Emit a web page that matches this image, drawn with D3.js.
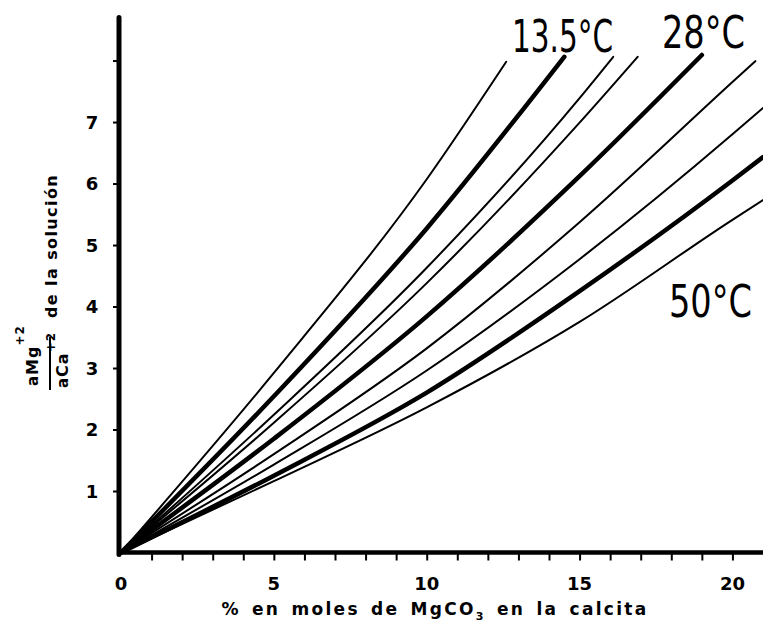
<!DOCTYPE html>
<html>
<head>
<meta charset="utf-8">
<script src="https://cdn.jsdelivr.net/npm/d3@7"></script>
<style>
  html, body { margin: 0; padding: 0; background: #fff; }
  svg { display: block; }
</style>
</head>
<body>
<svg id="chart" width="763" height="633"></svg>
<script>
// ---- data ----
const xTickValues = [1,2,3,4,5,6,7,8,9,10,11,12,13,14,15,16,17,18,19,20];
const xTickLabels = [0, 5, 10, 15, 20];
const yTickValues = [1,2,3,4,5,6,7,8];
const yTickLabels = [1,2,3,4,5,6,7];

const seriesNames = ["sup 13.5°C", "13.5°C", "inf 13.5°C", "sup 28°C", "28°C", "inf 28°C", "sup 50°C", "50°C", "inf 50°C"];
const line1 = [[0,0],[5,2.92],[10,6.07],[12.6,7.98]];
const line2 = [[0,0],[5,2.54],[10,5.27],[14.5,8.06]];
const line3 = [[0,0],[5,2.24],[10,4.63],[15,7.39],[16.1,8.06]];
const line4 = [[0,0],[5,2.11],[10,4.38],[15,6.99],[16.9,8.06]];
const line5 = [[0,0],[5,1.85],[10,3.84],[15,6.12],[19.0,8.09]];
const line6 = [[0,0],[5,1.60],[10,3.32],[15,5.37],[20,7.65],[20.75,7.99]];
const line7 = [[0,0],[5,1.43],[10,2.96],[15,4.77],[20,6.80],[21,7.23]];
const line8 = [[0,0],[5,1.25],[10,2.60],[15,4.25],[20,6.05],[21,6.43]];
const line9 = [[0,0],[5,1.16],[10,2.36],[15,3.75],[20,5.41],[21,5.73]];
const seriesValues = [line1, line2, line3, line4, line5, line6, line7, line8, line9];
const tempLabels = ["13.5°C", "28°C", "50°C"];

// ---- layout ----
const svg = d3.select("#chart");
const x = d3.scaleLinear().domain([0, 21]).range([121, 763]);
const y = d3.scaleLinear().domain([0, 8.7]).range([552.5, 17.5]);
const thickSet = new Set([1, 4, 7]);

// series lines
const lineGen = d3.line().x(d => x(d[0])).y(d => y(d[1])).curve(d3.curveMonotoneX);
svg.append("g").selectAll("path")
  .data(seriesValues)
  .join("path")
  .attr("d", lineGen)
  .attr("fill", "none")
  .attr("stroke", "#000")
  .attr("stroke-linecap", "round")
  .attr("stroke-width", (d, i) => thickSet.has(i) ? 4.5 : 2);

// x axis
const xAxis = d3.axisBottom(x).tickValues(xTickValues).tickSize(8).tickSizeOuter(0).tickFormat("");
const gx = svg.append("g").attr("transform", `translate(0,${y(0)})`).call(xAxis);
gx.select(".domain").remove();
gx.selectAll(".tick line").attr("stroke", "#000").attr("stroke-width", 2);
svg.append("line").attr("x1", x(0) - 4).attr("x2", 763).attr("y1", y(0)).attr("y2", y(0))
  .attr("stroke", "#000").attr("stroke-width", 4.5);
svg.append("g").selectAll("text").data(xTickLabels).join("text")
  .attr("x", d => x(d)).attr("y", 590)
  .attr("text-anchor", "middle")
  .attr("font-family", "DejaVu Sans, sans-serif").attr("font-weight", "bold").attr("font-size", 18)
  .text(d => d);

// y axis
const yAxis = d3.axisLeft(y).tickValues(yTickValues).tickSize(6).tickSizeOuter(0).tickFormat("");
const gy = svg.append("g").attr("transform", `translate(${x(0) - 2},0)`).call(yAxis);
gy.select(".domain").remove();
gy.selectAll(".tick line").attr("stroke", "#000").attr("stroke-width", 2);
svg.append("line").attr("x1", x(0) - 2).attr("x2", x(0) - 2).attr("y1", y(8.7)).attr("y2", y(0) + 2)
  .attr("stroke", "#000").attr("stroke-width", 5).attr("stroke-linecap", "round");
svg.append("g").selectAll("text").data(yTickLabels).join("text")
  .attr("x", 92).attr("y", d => y(d) + 6.5)
  .attr("text-anchor", "middle")
  .attr("font-family", "DejaVu Sans, sans-serif").attr("font-weight", "bold").attr("font-size", 18)
  .text(d => d);

// temperature annotations (horizontally condensed to the widths seen in the picture)
const annPos = [[512, 52, 101], [662, 48, 83], [669, 317, 83]];
tempLabels.forEach((lab, i) => {
  const g = svg.append("g");
  const t = g.append("text")
    .attr("x", 0).attr("y", 0)
    .attr("font-family", "'DejaVu Sans Condensed', 'Liberation Sans Narrow', sans-serif")
    .attr("font-size", 44)
    .text(lab);
  const w = t.node().getComputedTextLength();
  const s = annPos[i][2] / w;
  g.attr("transform", `translate(${annPos[i][0]},${annPos[i][1]}) scale(${s},1)`);
});

// x axis title
const xt = svg.append("text")
  .attr("x", 435).attr("y", 615)
  .attr("text-anchor", "middle")
  .attr("font-family", "DejaVu Sans, sans-serif").attr("font-weight", "bold").attr("font-size", 17)
  .attr("letter-spacing", 2.3).attr("word-spacing", 3);
xt.append("tspan").text("% en moles de MgCO");
xt.append("tspan").attr("font-size", 11).attr("dy", 5).text("3");
xt.append("tspan").attr("dy", -5).text(" en la calcita");

// y axis title (rotated)
const yg = svg.append("g").attr("transform", "rotate(-90)")
  .attr("font-family", "DejaVu Sans, sans-serif").attr("font-weight", "bold");
const num = yg.append("text").attr("x", -386).attr("y", 38).attr("font-size", 16).attr("letter-spacing", 1);
num.append("tspan").attr("font-size", 15).text("a");
num.append("tspan").text("Mg");
num.append("tspan").attr("font-size", 12).attr("dy", -14).text("+2");
yg.append("line").attr("x1", -390).attr("x2", -337).attr("y1", 50).attr("y2", 50)
  .attr("stroke", "#000").attr("stroke-width", 2);
const den = yg.append("text").attr("x", -388).attr("y", 68).attr("font-size", 16).attr("letter-spacing", 1);
den.append("tspan").attr("font-size", 15).text("a");
den.append("tspan").text("Ca");
den.append("tspan").attr("font-size", 12).attr("dy", -13).text("+2");
yg.append("text").attr("x", -318).attr("y", 57).attr("font-size", 16).attr("letter-spacing", 1.4)
  .text("de la solución");
</script>
</body>
</html>
